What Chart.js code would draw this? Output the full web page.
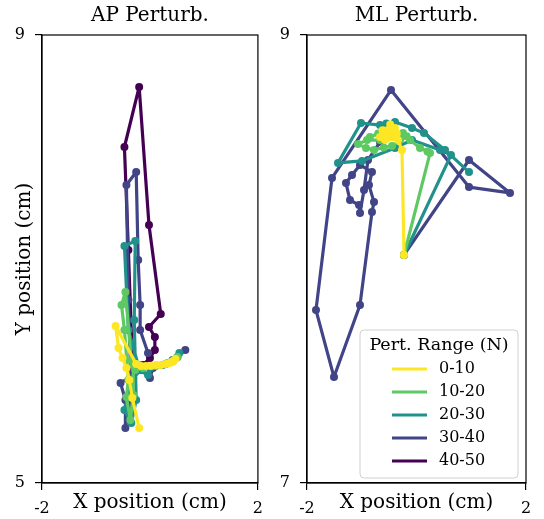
<!DOCTYPE html>
<html>
<head>
<meta charset="utf-8">
<script src="https://cdn.jsdelivr.net/npm/chart.js@4.4.1/dist/chart.umd.min.js"></script>
<style>
  body { margin: 0; background: #fff; }
  #wrap { position: relative; width: 544px; height: 519px; }
  canvas { position: absolute; top: 0; }
  #apChart { left: 0; }
  #mlChart { left: 272px; }
</style>
</head>
<body>
<div id="wrap">
  <canvas id="apChart" width="272" height="519"></canvas>
  <canvas id="mlChart" width="272" height="519"></canvas>
</div>
<script>
// Rangos de perturbacion (leyenda)
const categorias = ['0-10', '10-20', '20-30', '30-40', '40-50']
const colores = ['#fde725', '#5ec962', '#21918c', '#414487', '#440154']

const xTicks = [-2, 2]
const apYTicks = [5, 9]
const mlYTicks = [7, 9]

// Trayectorias AP  [x, y] en cm
const ap_0_10 = [[0.473,6.107],[0.436,6.089],[0.400,6.080],[0.364,6.071],[0.291,6.062],[0.2,6.054],[0.109,6.054],[0.018,6.045],[-0.073,6.045],[-0.164,6.045],[-0.255,6.062],[-0.636,6.402],[-0.582,6.205],[-0.509,6.116],[-0.436,6.027],[-0.382,5.920],[-0.327,5.759],[-0.2,5.491]]
const ap_10_20 = [[0.509,6.125],[0.420,6.085],[0.327,6.071],[0.109,6.045],[-0.127,6.027],[-0.273,6.009],[-0.345,6.098],[-0.455,6.705],[-0.527,6.589],[-0.473,6.366],[-0.4,5.920],[-0.436,5.768],[-0.364,5.562],[-0.309,5.786],[-0.309,6.054]]
const ap_20_30 = [[0.545,6.161],[0.418,6.098],[0.236,6.054],[0.0,6.027],[-0.036,5.964],[-0.164,6.009],[-0.309,5.938],[-0.473,5.652],[-0.345,5.536],[-0.255,5.741],[-0.291,6.455],[-0.273,7.161],[-0.473,7.116],[-0.4,6.366],[-0.218,6.054]]
const ap_30_40 = [[0.655,6.188],[0.509,6.125],[0.291,6.062],[0.055,6.027],[0.0,5.938],[-0.164,6.009],[-0.545,5.893],[-0.455,5.741],[-0.455,5.491],[-0.345,5.786],[-0.4,6.634],[-0.436,7.661],[-0.255,7.777],[-0.218,6.991],[-0.182,6.589],[-0.182,6.366],[-0.036,6.161]]
const ap_40_50 = [[-0.327,6.098],[-0.4,7.08],[-0.473,8.0],[-0.2,8.536],[-0.018,7.304],[0.2,6.509],[-0.018,6.393],[0.091,6.304],[0.091,6.188],[0.0,6.116],[-0.127,6.054]]

// Trayectorias ML  [x, y] en cm
const ml_0_10 = [[-0.228,8.018],[-0.265,8.487],[-0.338,8.531],[-0.447,8.545],[-0.575,8.562],[-0.667,8.545],[-0.521,8.576],[-0.393,8.585],[-0.429,8.554],[-0.575,8.531],[-0.480,8.600],[-0.360,8.560],[-0.620,8.575],[-0.520,8.540]]
const ml_10_20 = [[-0.228,8.018],[0.247,8.473],[0.200,8.480],[0.064,8.496],[-0.119,8.531],[-0.247,8.562],[-0.447,8.554],[-0.667,8.531],[-0.904,8.531],[-1.068,8.513],[-0.922,8.496],[-0.776,8.487],[-0.600,8.498],[-0.447,8.504],[-0.301,8.531],[-0.180,8.548],[-0.700,8.560],[-0.850,8.545]]
const ml_20_30 = [[-0.228,8.018],[0.630,8.464],[0.429,8.487],[-0.082,8.531],[-0.393,8.496],[-0.995,8.438],[-1.434,8.429],[-1.014,8.607],[-0.667,8.598],[-0.550,8.605],[-0.393,8.612],[-0.082,8.585],[0.137,8.562],[0.521,8.487],[0.959,8.388]]
const ml_30_40 = [[-0.228,8.018],[0.959,8.442],[1.708,8.295],[0.959,8.321],[-0.466,8.754],[-1.543,8.362],[-1.836,7.772],[-1.507,7.473],[-1.032,7.795],[-0.813,8.210],[-0.776,8.254],[-0.868,8.330],[-0.813,8.388],[-1.032,8.420],[-1.178,8.375],[-1.288,8.339],[-1.215,8.263],[-1.050,8.241],[-1.032,8.205],[-0.959,8.308],[-0.886,8.442],[-0.667,8.522]]
const ml_40_50 = []

const fuente = 'DejaVu Serif'

const armarDatasets = (series) => series.map((puntos, i) => ({
    label: categorias[i],
    data: puntos.map(p => ({ x: p[0], y: p[1] })),
    showLine: true,
    borderColor: colores[i],
    backgroundColor: colores[i],
    borderWidth: 3.2,
    borderJoinStyle: 'round',
    borderCapStyle: 'round',
    pointRadius: 4,
    pointBorderWidth: 0,
    pointBackgroundColor: colores[i],
    tension: 0
}))

const ejeX = {
    type: 'linear', min: -2, max: 2,
    afterBuildTicks: eje => { eje.ticks = xTicks.map(v => ({ value: v })) },
    afterFit: eje => { eje.height = 36 },
    grid: { drawOnChartArea: false, drawTicks: true, tickLength: 7, color: '#000', lineWidth: 1.2 },
    border: { display: true, color: '#000', width: 1.2 },
    ticks: { color: '#000', font: { family: fuente, size: 16 }, padding: 9, maxRotation: 0, autoSkip: false, callback: v => String(v) },
    title: { display: true, text: 'X position (cm)', color: '#000', font: { family: fuente, size: 20 }, padding: { top: 0, bottom: 4 } }
}

const ejeY = (ticks, ancho, conTitulo) => ({
    type: 'linear', min: ticks[0], max: ticks[1],
    afterBuildTicks: eje => { eje.ticks = ticks.map(v => ({ value: v })) },
    afterFit: eje => { eje.width = ancho },
    grid: { drawOnChartArea: false, drawTicks: true, tickLength: 7, color: '#000', lineWidth: 1.2 },
    border: { display: true, color: '#000', width: 1.2 },
    ticks: { color: '#000', font: { family: fuente, size: 16 }, padding: 10, autoSkip: false, callback: v => String(v) },
    title: { display: conTitulo, text: 'Y position (cm)', color: '#000', font: { family: fuente, size: 20 }, padding: { top: 13, bottom: 0 } }
})

// Marco completo y titulo de cada panel
const marcoTitulo = {
    id: 'marcoTitulo',
    afterDraw(chart, args, opts) {
        const { ctx, chartArea: a } = chart
        ctx.save()
        ctx.strokeStyle = '#000'
        ctx.lineWidth = 1.2
        ctx.strokeRect(a.left, a.top, a.right - a.left, a.bottom - a.top)
        ctx.fillStyle = '#000'
        ctx.font = '20px "' + fuente + '"'
        ctx.textAlign = 'center'
        ctx.textBaseline = 'middle'
        ctx.fillText(opts.texto, (a.left + a.right) / 2, 16)
        ctx.restore()
    }
}

// Leyenda dentro del area del grafico
const leyendaInterna = {
    id: 'leyendaInterna',
    afterDraw(chart, args, opts) {
        if (!opts.mostrar) return
        const { ctx, chartArea: a } = chart
        const w = 158, h = 148
        const x0 = a.right - 8 - w, y0 = a.bottom - 5 - h
        ctx.save()
        ctx.beginPath()
        ctx.roundRect(x0, y0, w, h, 4)
        ctx.fillStyle = 'rgba(255,255,255,0.85)'
        ctx.fill()
        ctx.strokeStyle = '#d0d0d0'
        ctx.lineWidth = 1
        ctx.stroke()
        ctx.fillStyle = '#000'
        ctx.font = '17.5px "' + fuente + '"'
        ctx.textAlign = 'center'
        ctx.textBaseline = 'middle'
        ctx.fillText('Pert. Range (N)', x0 + w / 2, y0 + 15)
        ctx.font = '16px "' + fuente + '"'
        ctx.textAlign = 'left'
        chart.data.datasets.forEach((ds, i) => {
            const y = y0 + 39 + i * 23
            ctx.strokeStyle = ds.borderColor
            ctx.lineWidth = 3.2
            ctx.beginPath()
            ctx.moveTo(x0 + 32, y)
            ctx.lineTo(x0 + 67, y)
            ctx.stroke()
            ctx.fillText(ds.label, x0 + 79, y)
        })
        ctx.restore()
    }
}

const crearGrafico = (id, series, yTicks, anchoY, padDer, titulo, conTituloY, conLeyenda) => new Chart(document.getElementById(id), {
    type: 'scatter',
    data: { datasets: armarDatasets(series) },
    options: {
        responsive: false,
        animation: false,
        events: [],
        layout: { autoPadding: false, padding: { top: 35, right: padDer, left: 0, bottom: 0 } },
        scales: { x: ejeX, y: ejeY(yTicks, anchoY, conTituloY) },
        plugins: {
            legend: { display: false },
            tooltip: { enabled: false },
            marcoTitulo: { texto: titulo },
            leyendaInterna: { mostrar: conLeyenda }
        }
    },
    plugins: [marcoTitulo, leyendaInterna]
})

crearGrafico('apChart', [ap_0_10, ap_10_20, ap_20_30, ap_30_40, ap_40_50], apYTicks, 42, 10, 'AP Perturb.', true, false)
crearGrafico('mlChart', [ml_0_10, ml_10_20, ml_20_30, ml_30_40, ml_40_50], mlYTicks, 35, 18, 'ML Perturb.', false, true)
</script>
</body>
</html>
